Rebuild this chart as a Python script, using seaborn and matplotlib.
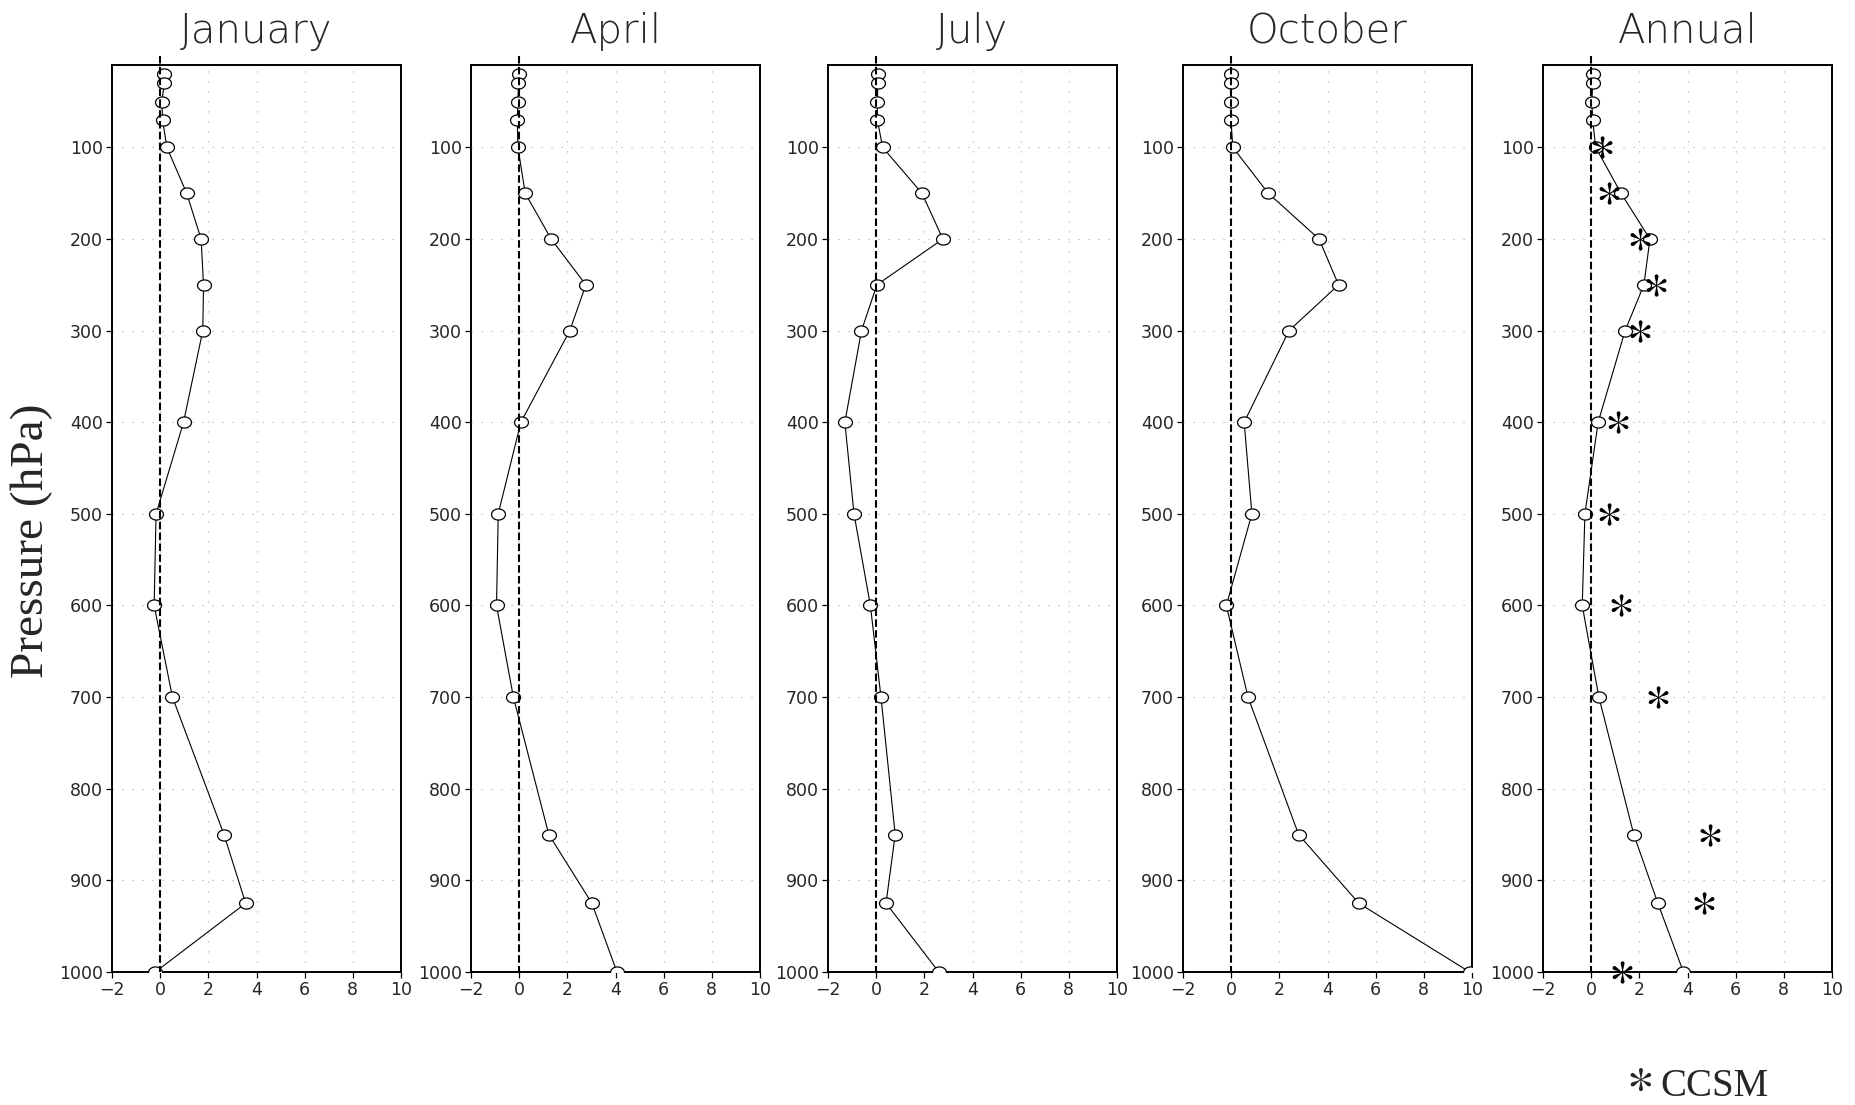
import numpy as np
import pandas as pd
import seaborn as sns
import matplotlib.pyplot as plt
from matplotlib.path import Path

# pressure levels (hPa) and temperature differences
levels = [20, 30, 50, 70, 100, 150, 200, 250, 300, 400, 500, 600, 700, 850, 925, 1000]
january = [0.17, 0.17, 0.07, 0.10, 0.28, 1.10, 1.70, 1.80, 1.77, 0.97, -0.17, -0.25, 0.51, 2.65, 3.55, -0.20]
april = [0.00, -0.03, -0.05, -0.08, -0.05, 0.25, 1.33, 2.77, 2.10, 0.07, -0.87, -0.94, -0.24, 1.23, 3.02, 4.06]
july = [0.07, 0.07, 0.05, 0.05, 0.27, 1.90, 2.77, 0.03, -0.61, -1.30, -0.92, -0.24, 0.20, 0.79, 0.41, 2.60]
october = [0.00, 0.00, 0.00, -0.01, 0.07, 1.54, 3.65, 4.46, 2.40, 0.54, 0.86, -0.20, 0.70, 2.80, 5.30, 9.90]
annual = [0.06, 0.06, 0.03, 0.06, 0.19, 1.24, 2.44, 2.19, 1.41, 0.29, -0.26, -0.37, 0.32, 1.77, 2.77, 3.83]

ccsm_levels = [100, 150, 200, 250, 300, 400, 500, 600, 700, 850, 925, 1000]
ccsm = [0.44, 0.72, 2.03, 2.69, 2.03, 1.10, 0.72, 1.24, 2.76, 4.92, 4.69, 1.27]

titles = ["January", "April", "July", "October", "Annual"]
series = [january, april, july, october, annual]

xticks = [-2, 0, 2, 4, 6, 8, 10]
yticks = [100, 200, 300, 400, 500, 600, 700, 800, 900, 1000]

sns.set_style("white")
plt.rcParams["font.family"] = ["DejaVu Sans"]
plt.rcParams["mathtext.fontset"] = "stix"
plt.rcParams["axes.unicode_minus"] = True

# slightly flattened open circle, like the original plot
t = np.linspace(0, 2 * np.pi, 60)
ellipse = Path(np.column_stack([np.cos(t), 0.8 * np.sin(t)]), closed=True)

fig = plt.figure(figsize=(18.55, 11.05), dpi=100)
lefts = [112, 471, 828, 1183, 1543]

for left, title, vals in zip(lefts, titles, series):
    ax = fig.add_axes([left / 1855, 0.1204, 289 / 1855, 0.8208])
    df = pd.DataFrame({"diff": vals, "p": levels})
    sns.lineplot(data=df, x="diff", y="p", sort=False, estimator=None, ax=ax,
                 color="black", lw=0.8, marker=ellipse, markersize=10,
                 markerfacecolor="white", markeredgecolor="black",
                 markeredgewidth=0.9, zorder=3)
    ax.plot([0, 0], [0, 1000], color="black", lw=1.5, ls=(0, (3.6, 1.6)),
            clip_on=False, zorder=4)
    if title == "Annual":
        cdf = pd.DataFrame({"diff": ccsm, "p": ccsm_levels})
        sns.scatterplot(data=cdf, x="diff", y="p", ax=ax, marker=r"$\ast$",
                        s=260, color="black", linewidth=0, clip_on=False, zorder=5)

    ax.set_xlim(-2, 10)
    ax.set_ylim(1000, 10)
    ax.set_xticks(xticks)
    ax.set_yticks(yticks)
    ax.set_xticklabels([str(v) if v >= 0 else "\u2212" + str(-v) for v in xticks])
    ax.grid(True, ls=(0, (1, 8)), color="#a8a8a8", lw=0.8)
    ax.tick_params(axis="both", direction="out", length=4.5, width=0.9,
                   labelsize=12.5, pad=2, color="black", bottom=True, left=True)
    for sp in ax.spines.values():
        sp.set_color("black")
        sp.set_linewidth(1.4)
    ax.set_xlabel("")
    ax.set_ylabel("")
    ax.set_title(title, fontsize=29, fontweight=200, pad=16)

fig.text(32 / 1855, 1 - 541 / 1105, "Pressure (hPa)", rotation=90,
         family="Liberation Serif", fontsize=34, ha="center", va="center")
fig.text(1639 / 1855, 1 - 1077 / 1105, r"$\ast$", fontsize=38,
         ha="center", va="center")
fig.text(1660 / 1855, 1 - 1096 / 1105, "CCSM", family="Liberation Serif",
         fontsize=28, ha="left", va="baseline")

fig.savefig("out.png", dpi=100)
